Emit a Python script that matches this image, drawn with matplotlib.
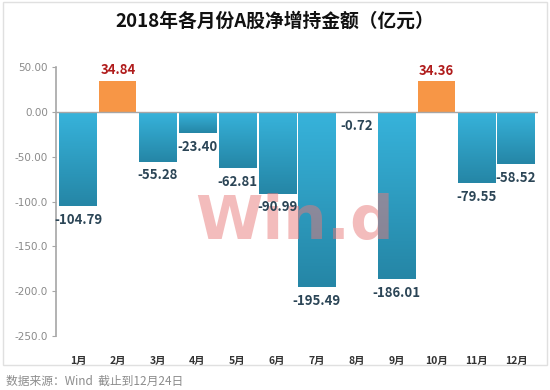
import matplotlib.pyplot as plt
import numpy as np
from matplotlib.colors import LinearSegmentedColormap
from matplotlib.patches import Rectangle

plt.rcParams['font.family'] = ['Noto Sans CJK SC', 'DejaVu Sans']

months = ['1月', '2月', '3月', '4月', '5月', '6月', '7月', '8月', '9月', '10月', '11月', '12月']
values = [-104.79, 34.84, -55.28, -23.40, -62.81, -90.99, -195.49, -0.72, -186.01, 34.36, -79.55, -58.52]
yticks = [50, 0, -50, -100, -150, -200, -250]
ytick_labels = ['50.00', '0.00', '-50.00', '-100.0', '-150.0', '-200.0', '-250.0']

fig = plt.figure(figsize=(5.5, 3.9), dpi=100)
ax = fig.add_axes([0.102, 0.138, 0.876, 0.690])

x = np.arange(len(months))
width = 0.93
blue_cmap = LinearSegmentedColormap.from_list('blue', ['#37b3db', '#2586a6'])
grad = np.linspace(0, 1, 100).reshape(-1, 1)

for xi, v in zip(x, values):
    if v >= 0:
        ax.bar(xi, v, width=width, color='#f79646', zorder=2)
        ax.text(xi, v + 4, f'{v:.2f}', ha='center', va='bottom',
                fontsize=9.5, fontweight='bold', color='#b01c1c', zorder=5)
    else:
        b = ax.bar(xi, v, width=width, color='none', zorder=2)[0]
        im = ax.imshow(grad, cmap=blue_cmap, aspect='auto', zorder=2,
                       extent=[xi - width / 2, xi + width / 2, v, 0], origin='upper')
        im.set_clip_path(b)
        ax.text(xi, v - 7.5, f'{v:.2f}', ha='center', va='top',
                fontsize=9.5, fontweight='bold', color='#2b4556', zorder=5)

ax.axhline(0, color='#a6a6a6', lw=1, zorder=3)

# watermark
ax.text(5.45, -123, 'Win.d', ha='center', va='center', fontsize=44, fontweight='bold',
        color='#e87a7a', alpha=0.5, zorder=4, family=['DejaVu Sans'])

ax.set_xlim(-0.55, 11.55)
ax.set_ylim(-250, 50)
ax.set_yticks(yticks)
ax.set_yticklabels(ytick_labels, fontsize=7.5, color='#8a8a8a', family=['DejaVu Sans'])
ax.set_xticks(x)
ax.set_xticklabels(months, fontsize=7.5, fontweight='bold', color='#333333')
ax.tick_params(axis='x', length=0, pad=14)
ax.tick_params(axis='y', length=3, color='#a6a6a6', pad=3)

for s in ['top', 'right', 'bottom']:
    ax.spines[s].set_visible(False)
ax.spines['left'].set_color('#a6a6a6')
ax.spines['left'].set_linewidth(1.2)

# outer frame
fig.patches.append(Rectangle((0.006, 0.065), 0.989, 0.93, transform=fig.transFigure,
                             fill=False, edgecolor='#e0e0e0', lw=1))

fig.text(0.5, 0.945, '2018年各月份A股净增持金额（亿元）', ha='center', va='center',
         fontsize=13.5, fontweight='bold', color='#111111')
fig.text(0.01, 0.022, '数据来源：Wind  截止到12月24日', ha='left', va='center',
         fontsize=8.5, color='#8c8c8c')

fig.savefig('out.png', dpi=100)
plt.close(fig)
